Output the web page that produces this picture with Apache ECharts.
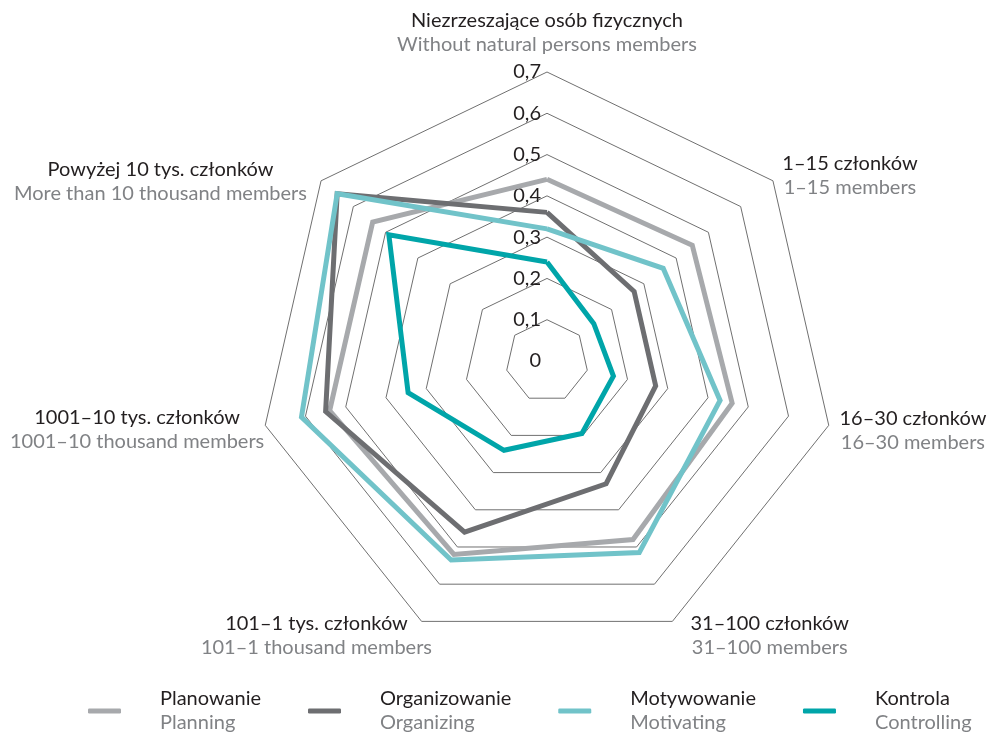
<!DOCTYPE html>
<html>
<head>
<meta charset="utf-8">
<script src="https://cdn.jsdelivr.net/npm/echarts@6/dist/echarts.min.js"></script>
<style>
  html, body { margin: 0; padding: 0; background: #ffffff; }
  #chart { width: 987px; height: 732px; }
</style>
</head>
<body>
<div id="chart"></div>
<script>
// Indicators, listed in the order the radar places them (counter-clockwise from the top)
const namesPl = [
  'Niezrzeszające osób fizycznych',
  'Powyżej 10 tys. członków',
  '1001–10 tys. członków',
  '101–1 tys. członków',
  '31–100 członków',
  '16–30 członków',
  '1–15 członków'
];
const namesEn = [
  'Without natural persons members',
  'More than 10 thousand members',
  '1001–10 thousand members',
  '101–1 thousand members',
  '31–100 members',
  '16–30 members',
  '1–15 members'
];

const seriesPl = ['Planowanie', 'Organizowanie', 'Motywowanie', 'Kontrola'];
const seriesEn = ['Planning', 'Organizing', 'Motivating', 'Controlling'];

const planowanie    = [0.44, 0.54, 0.54, 0.52, 0.48, 0.46, 0.45];
const organizowanie = [0.36, 0.65, 0.55, 0.46, 0.33, 0.27, 0.27];
const motywowanie   = [0.32, 0.65, 0.61, 0.535, 0.515, 0.43, 0.36];
const kontrola      = [0.24, 0.49, 0.345, 0.24, 0.195, 0.165, 0.145];

const scaleMax = 0.7;
const scaleSplits = 7;

// Styling
const seriesColors = ['#a7a9ac', '#6d6e71', '#71c3c9', '#00a5a9'];
const FONT = 'Lato, "Liberation Sans", sans-serif';
const FONT_SIZE = 20;
const LINE_H = 24;
const DARK = '#231f20';
const GREY = '#808285';

// Per-indicator name placement: distance from the outer ring and text padding
const nameGaps = [15, 18, 1, -24, 14, 11, 12];
const namePads = [
  [0, 0, 0, 0],
  [24, 0, 0, 0],
  [9, 0, 0, 0],
  [72, 0, 0, 0],
  [3, 0, 0, 12],
  [6, 0, 0, 0],
  [5, 0, 0, 0]
];

const values = [planowanie, organizowanie, motywowanie, kontrola];

const indicator = namesPl.map((n, i) => {
  const ind = {
    name: n,
    min: 0,
    max: scaleMax,
    nameGap: nameGaps[i],
    nameTextStyle: { padding: namePads[i] }
  };
  if (i === 0) {
    ind.axisLabel = {
      show: true,
      color: DARK,
      fontSize: FONT_SIZE,
      fontFamily: FONT,
      margin: 6,
      formatter: v => (v === 0 ? '0' : v.toFixed(1).replace('.', ','))
    };
  }
  return ind;
});

const chart = echarts.init(document.getElementById('chart'), null, { renderer: 'canvas' });

chart.setOption({
  backgroundColor: '#ffffff',
  animation: false,
  textStyle: { fontFamily: FONT },
  legend: {
    left: 83,
    top: 684,
    icon: 'roundRect',
    itemWidth: 33,
    itemHeight: 5,
    itemGap: 47,
    data: seriesPl,
    formatter: name => {
      const i = seriesPl.indexOf(name);
      return '{a|' + name + '}\n{b|' + seriesEn[i] + '}';
    },
    textStyle: {
      rich: {
        a: { color: DARK, fontSize: FONT_SIZE, fontFamily: FONT, lineHeight: LINE_H, padding: [0, 0, 0, 34] },
        b: { color: GREY, fontSize: FONT_SIZE, fontFamily: FONT, lineHeight: LINE_H, padding: [0, 0, 0, 34] }
      }
    }
  },
  radar: {
    center: [547, 361],
    radius: 289,
    startAngle: 90,
    shape: 'polygon',
    splitNumber: scaleSplits,
    indicator: indicator,
    nameGap: 12,
    axisName: {
      formatter: (name) => {
        const i = namesPl.indexOf(name);
        return '{a|' + name + '}\n{b|' + namesEn[i] + '}';
      },
      rich: {
        a: { color: DARK, fontSize: FONT_SIZE, fontFamily: FONT, lineHeight: LINE_H, align: 'center' },
        b: { color: GREY, fontSize: FONT_SIZE, fontFamily: FONT, lineHeight: LINE_H, align: 'center' }
      }
    },
    axisLine: { show: false },
    axisTick: { show: false },
    axisLabel: { show: false },
    splitArea: { show: false },
    splitLine: { lineStyle: { color: '#707070', width: 1 } }
  },
  series: [{
    type: 'radar',
    symbol: 'none',
    data: values.map((v, i) => ({
      name: seriesPl[i],
      value: v,
      lineStyle: { color: seriesColors[i], width: 5, join: 'miter' },
      itemStyle: { color: seriesColors[i] }
    }))
  }]
});
</script>
</body>
</html>
